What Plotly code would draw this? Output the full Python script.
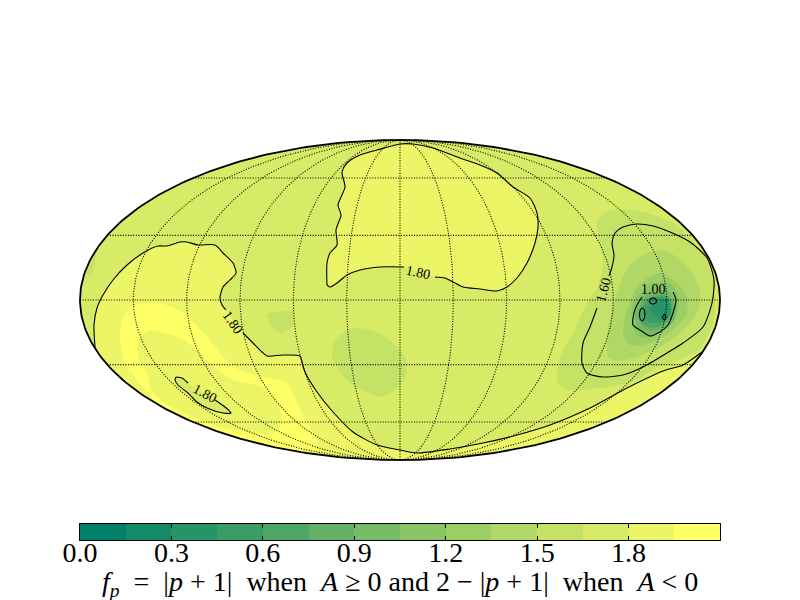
import math
import numpy as np
import plotly.graph_objects as go

# Colour-band edges of f_p and colour-bar ticks
band_edges = [0.0, 0.15, 0.3, 0.45, 0.6, 0.75, 0.9, 1.05, 1.2, 1.35, 1.5, 1.65, 1.8, 1.95, 2.1]
band_index = list(range(14))
tick_values = [0.0, 0.3, 0.6, 0.9, 1.2, 1.5, 1.8]
tick_labels = ["0.0", "0.3", "0.6", "0.9", "1.2", "1.5", "1.8"]

# Graticule
meridian_lons = [-150, -120, -90, -60, -30, 0, 30, 60, 90, 120, 150]
parallel_lats = [-60, -30, 0, 30, 60]

# Iso-regions, in the Mollweide plane (half-axes 320 x 160)
north_region = [(-73, 15), (-73, 37), (-70, 47), (-63, 55), (-64, 70), (-59, 85), (-62, 95), (-55, 113),
                (-58, 128), (-53, 137), (-40, 145), (-23, 150), (0, 156), (13, 156), (33, 152), (60, 142),
                (80, 135), (97, 127), (113, 113), (130, 102), (137, 87), (138, 73), (135, 57), (127, 37),
                (117, 22), (107, 13), (97, 9), (80, 11), (63, 13), (53, 18), (45, 22), (35, 23),
                (4, 33), (-20, 33), (-40, 30), (-53, 25), (-63, 17), (-70, 13)]
south_region = [(-305, -47), (-306, -25), (-303, -8), (-297, 5), (-287, 20), (-273, 35), (-257, 47), (-242, 54),
                (-233, 54), (-220, 58), (-213, 58), (-202, 55), (-185, 55), (-177, 47), (-167, 37), (-164, 27),
                (-170, 20), (-177, 13), (-180, 2), (-178, -5), (-174, -10),
                (-157, -33), (-147, -43), (-138, -52), (-133, -56), (-117, -55), (-100, -56), (-98, -62),
                (-95, -72), (-83, -92), (-67, -112), (-47, -132), (-23, -145), (0, -150), (17, -153),
                (50, -149), (83, -143), (117, -135), (150, -125), (190, -108), (227, -88), (263, -71),
                (283, -65), (302, -52)]
yellow_band = [(-280, -37), (-277, -17), (-267, -5), (-237, -4), (-217, -13), (-197, -32), (-177, -57),
               (-157, -72), (-130, -78), (-113, -83), (-103, -103), (-93, -123), (-83, -140), (-82, -154)]
yellow_band_tail = [(-243, -104), (-263, -80), (-275, -63)]
yellow_hole = [(-253, -31), (-228, -35), (-213, -42), (-190, -63), (-167, -80), (-137, -87), (-123, -103),
               (-118, -123), (-127, -133), (-153, -132), (-187, -125), (-203, -118), (-227, -108), (-247, -93),
               (-253, -73), (-262, -57), (-262, -43)]
island = [(-224, -77), (-218, -78), (-212, -83), (-185, -100), (-175, -107), (-169, -113), (-177, -113),
          (-193, -108), (-203, -102), (-212, -93), (-222, -85), (-225, -80)]
patch_a = [(-132, -14), (-107, -12), (-108, -27), (-120, -33), (-128, -27)]
patch_b = [(-63, -38), (-47, -28), (-30, -30), (-13, -38), (0, -50), (7, -62), (5, -78), (-5, -90), (-20, -97),
           (-33, -92), (-50, -83), (-67, -60), (-68, -50)]
limb_wedge = [(-314, 25), (-304, 48), (-309, 25)]
spot_10 = [(198, 80), (207, 88), (223, 91), (247, 87), (273, 78), (288, 65), (303, 45), (313, 23), (316, 0),
           (313, -23), (300, -49), (280, -60), (257, -68), (233, -82), (207, -87), (170, -90), (158, -83),
           (157, -73), (163, -50), (173, -33), (185, -7), (197, 13), (203, 33), (200, 57), (197, 70)]
spot_9 = [(207, -50), (208, -27), (218, 10), (228, 33), (243, 45), (260, 50), (277, 43), (290, 30), (300, 10),
          (299, -7), (293, -20), (280, -33), (260, -47), (237, -57), (217, -61), (208, -57)]
spot_8 = [(223, -33), (227, -10), (235, 10), (247, 22), (260, 27), (277, 17), (287, 3), (287, -13), (280, -23),
          (263, -37), (243, -45), (230, -45)]
spot_7 = [(232, -20), (233, -3), (240, 7), (253, 17), (270, 17), (278, 5), (278, -10), (273, -23), (260, -33),
          (243, -38), (235, -32)]
spot_6 = [(235, -15), (242, 3), (253, 8), (267, 10), (275, -2), (275, -17), (267, -28), (252, -35), (238, -28)]
spot_5 = [(238, -15), (243, 0), (253, 5), (265, 5), (273, -3), (273, -15), (265, -25), (252, -31), (242, -25)]
spot_4 = [(240, -13), (245, -1), (255, 4), (267, 4), (272, -4), (271, -15), (264, -24), (252, -28), (243, -24)]
spot_3 = [(243, -12), (248, -2), (258, 3), (268, 2), (271, -6), (270, -16), (263, -22), (252, -23), (245, -20)]
spot_2 = [(250, -10), (252, -5), (258, -1), (267, 0), (270, -8), (268, -18), (261, -20), (255, -15)]

contour_160 = [(197, -8), (190, -27), (183, -43), (182, -63), (187, -73), (203, -77), (223, -75), (243, -67),
               (267, -53), (283, -43), (303, -27), (312, -3), (314, 20), (307, 42), (290, 58), (270, 68),
               (253, 74), (237, 76), (223, 73), (215, 67), (212, 57), (214, 45), (212, 33), (209, 24)]
contour_100 = [(242, 3), (237, -5), (234, -13), (233, -25), (240, -30), (250, -36), (258, -33), (268, -25),
               (273, -13), (276, 0), (273, 8)]
loop_a = [(249.5, -1), (250.5, 1.2), (253, 2), (255.5, 1.2), (256.5, -1), (255.5, -3.2), (253, -4), (250.5, -3.2)]
loop_b = [(239.5, -15), (240, -11), (242, -8), (244, -9.5), (245, -14), (244.3, -18), (242.5, -21), (240.5, -19.5)]
loop_c = [(262.5, -17.5), (264.5, -14), (266, -17), (264.5, -20)]

# Contour labels: text, plane x, plane y, rotation
label_text = ["1.80", "1.80", "1.80", "1.60", "1.00"]
label_x = [18, -167, -195, 203, 253]
label_y = [28, -22, -93, 10, 11]
label_rot = [12, 55, 28, -75, 0]

A, B = 320.0, 160.0


def band_color(i):
    t = i / 13
    return f"rgb({round(255 * t)},{round(127.5 + 127.5 * t)},102)"


def limb(start, end, n=60):
    t0 = math.atan2(start[1] / B, start[0] / A)
    t1 = math.atan2(end[1] / B, end[0] / A)
    return [(A * math.cos(t), B * math.sin(t)) for t in np.linspace(t0, t1, n)]


def xy(points):
    return [p[0] for p in points], [p[1] for p in points]


fig = go.Figure()


def fill(points, band):
    x, y = xy(points + points[:1])
    fig.add_trace(go.Scatter(x=x, y=y, mode="lines", fill="toself", fillcolor=band_color(band),
                             line=dict(width=0, shape="spline", smoothing=0.7), hoverinfo="skip"))


def line(points, gap_after=None, close=False):
    pts = list(points)
    if close:
        pts = pts + pts[:1]
    x, y = xy(pts)
    if gap_after is not None:
        x.insert(gap_after + 1, None)
        y.insert(gap_after + 1, None)
    fig.add_trace(go.Scatter(x=x, y=y, mode="lines", hoverinfo="skip",
                             line=dict(color="black", width=1.1, shape="spline", smoothing=0.7)))


# Map background
outline = [(A * math.cos(t), B * math.sin(t)) for t in np.linspace(0, 2 * math.pi, 361)]
fig.add_trace(go.Scatter(x=xy(outline)[0], y=xy(outline)[1], mode="lines", fill="toself",
                         fillcolor=band_color(11), line=dict(width=0), hoverinfo="skip"))

# Filled bands
fill(limb_wedge, 10)
fill(north_region, 12)
fill(south_region + limb(south_region[-1], south_region[0]), 12)
fill(yellow_band + limb(yellow_band[-1], yellow_band_tail[0], 20) + yellow_band_tail, 13)
fill(yellow_hole, 12)
fill(island, 11)
fill(patch_a, 10)
fill(patch_b, 10)
fill(spot_10, 10)
fill(spot_9, 9)
fill(spot_8, 8)
fill(spot_7, 7)
fill(spot_6, 6)
fill(spot_5, 5)
fill(spot_4, 4)
fill(spot_3, 3)
fill(spot_2, 2)

# Contours
line(north_region, gap_after=31, close=True)
line(south_region, gap_after=20)
line(island, gap_after=2, close=True)
line(contour_160)
line(contour_100)
line(loop_a, close=True)
line(loop_b, close=True)
line(loop_c, close=True)

# Graticule
gx, gy = [], []
ts = np.linspace(-math.pi / 2, math.pi / 2, 121)
for lon in meridian_lons:
    gx += [A * lon / 180 * math.cos(t) for t in ts] + [None]
    gy += [B * math.sin(t) for t in ts] + [None]
for lat in parallel_lats:
    th = math.radians(lat)
    for _ in range(40):
        th -= (2 * th + math.sin(2 * th) - math.pi * math.sin(math.radians(lat))) / (2 + 2 * math.cos(2 * th))
    gx += [-A * math.cos(th), A * math.cos(th), None]
    gy += [B * math.sin(th), B * math.sin(th), None]
fig.add_trace(go.Scatter(x=gx, y=gy, mode="lines", hoverinfo="skip",
                         line=dict(color="black", width=1.1, dash="1px,1.6px")))

# Limb
fig.add_trace(go.Scatter(x=xy(outline)[0], y=xy(outline)[1], mode="lines", hoverinfo="skip",
                         line=dict(color="black", width=1.8)))

# Colour bar
fig.add_trace(go.Heatmap(x=band_edges, y=[0, 1], z=[band_index], zmin=0, zmax=13, showscale=False,
                         colorscale=[[0, band_color(0)], [1, band_color(13)]], xaxis="x2", yaxis="y2",
                         hoverinfo="skip"))

annotations = [dict(x=x, y=y, text=t, textangle=r, xref="x", yref="y", showarrow=False,
                    font=dict(family="Liberation Serif", size=14, color="black"))
               for t, x, y, r in zip(label_text, label_x, label_y, label_rot)]

title_text = ("<i>f<sub>p</sub></i>&nbsp; = &nbsp;|<i>p</i> + 1| &nbsp;when&nbsp; <i>A</i> ≥ 0 and "
              "2 − |<i>p</i> + 1| &nbsp;when&nbsp; <i>A</i> &lt; 0")
annotations.append(dict(x=0.5, y=0.0267, xref="paper", yref="paper", text=title_text, showarrow=False,
                        xanchor="center", yanchor="middle",
                        font=dict(family="Liberation Serif", size=28, color="black")))

fig.update_layout(
    width=800, height=600, margin=dict(l=0, r=0, t=0, b=0), showlegend=False,
    paper_bgcolor="white", plot_bgcolor="white",
    font=dict(family="Liberation Serif", color="black"),
    annotations=annotations,
    xaxis=dict(domain=[0, 1], range=[-400, 400], visible=False, automargin=False),
    yaxis=dict(domain=[0, 1], range=[-300, 300], visible=False, automargin=False),
    xaxis2=dict(domain=[0.1, 0.9], range=[0, 2.1], anchor="y2", tickvals=tick_values, ticktext=tick_labels,
                ticks="inside", ticklen=4, tickcolor="black", tickwidth=1, showline=True, linecolor="black",
                linewidth=1.2, mirror="ticks", showgrid=False, zeroline=False, tickangle=0, automargin=False,
                ticklabelstandoff=-13,
                tickfont=dict(family="Liberation Serif", size=28, color="black")),
    yaxis2=dict(domain=[0.1, 0.1267], range=[0, 1], anchor="x2", showticklabels=False, ticks="", automargin=False,
                showline=True, linecolor="black", linewidth=1.2, mirror=True, showgrid=False, zeroline=False),
)

fig.write_html("out.html", config=dict(displayModeBar=False),
               post_script="document.body.style.margin='0';document.body.style.overflow='hidden';")
